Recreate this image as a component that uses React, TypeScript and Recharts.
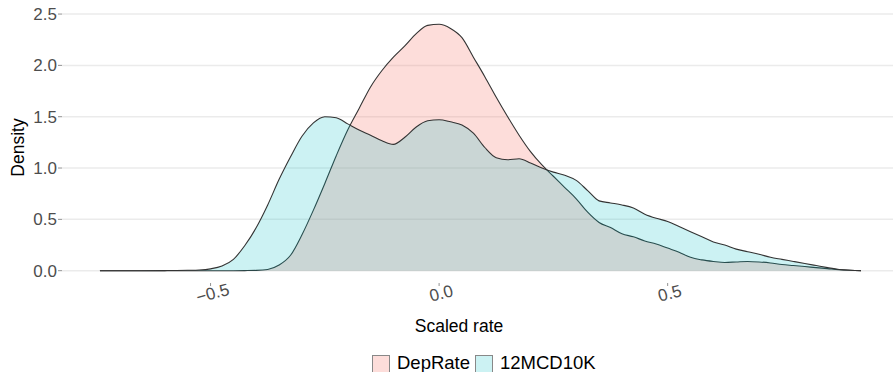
import React from 'react';
import { ComposedChart, Area, XAxis, YAxis, CartesianGrid } from 'recharts';

const xValues = [-0.742, -0.7, -0.65, -0.6, -0.575, -0.55, -0.525, -0.5, -0.475, -0.45, -0.425, -0.4, -0.375, -0.35, -0.325, -0.3, -0.275, -0.25, -0.225, -0.2, -0.175, -0.15, -0.125, -0.1, -0.075, -0.05, -0.025, 0, 0.025, 0.05, 0.075, 0.1, 0.125, 0.15, 0.175, 0.2, 0.225, 0.25, 0.275, 0.3, 0.325, 0.35, 0.375, 0.4, 0.425, 0.45, 0.475, 0.5, 0.525, 0.55, 0.575, 0.6, 0.625, 0.65, 0.675, 0.7, 0.725, 0.75, 0.775, 0.8, 0.825, 0.85, 0.875, 0.9, 0.923];

const depRate = [0, 0, 0, 0, 0, 0, 0, 0, 0, 0, 0.001, 0.003, 0.012, 0.055, 0.15, 0.35, 0.59, 0.85, 1.12, 1.37, 1.58, 1.79, 1.95, 2.08, 2.19, 2.31, 2.39, 2.40, 2.36, 2.27, 2.08, 1.89, 1.69, 1.50, 1.32, 1.16, 1.03, 0.92, 0.81, 0.70, 0.57, 0.47, 0.42, 0.36, 0.33, 0.29, 0.26, 0.22, 0.18, 0.13, 0.105, 0.09, 0.08, 0.085, 0.09, 0.085, 0.075, 0.06, 0.05, 0.04, 0.03, 0.02, 0.01, 0.004, 0.001];

const mcd10k = [0, 0, 0, 0.001, 0.002, 0.004, 0.007, 0.018, 0.045, 0.11, 0.245, 0.42, 0.64, 0.89, 1.11, 1.31, 1.44, 1.50, 1.49, 1.43, 1.37, 1.32, 1.265, 1.23, 1.30, 1.40, 1.46, 1.47, 1.45, 1.42, 1.34, 1.20, 1.10, 1.08, 1.09, 1.05, 1.00, 0.96, 0.93, 0.88, 0.78, 0.68, 0.66, 0.64, 0.61, 0.55, 0.51, 0.48, 0.43, 0.38, 0.33, 0.28, 0.25, 0.21, 0.185, 0.16, 0.13, 0.11, 0.09, 0.07, 0.05, 0.03, 0.012, 0.004, 0.001];

const xTicks = [-0.5, 0, 0.5];
const yTicks = [0, 0.5, 1, 1.5, 2, 2.5];
const yDomain = [-0.12, 2.52];
const seriesNames = ['DepRate', '12MCD10K'];
const seriesColors = ['#F8766D', '#00BFC4'];

const data = xValues.map((x, i) => ({ x, dep: depRate[i], mcd: mcd10k[i] }));

const FONT = '"Liberation Sans", Arial, Helvetica, sans-serif';

const fmtX = (v: number) => {
  const s = Math.abs(v).toFixed(1);
  return v < 0 ? '\u2212' + s : s;
};

const XTick = (props: any) => {
  const { x, y, payload } = props;
  const cx = x + 2;
  const cy = y + 5;
  return (
    <text
      x={cx}
      y={cy + 6}
      textAnchor="middle"
      transform={`rotate(-15, ${cx}, ${cy})`}
      fill="#4D4D4D"
      fontSize={17}
      fontFamily={FONT}
    >
      {fmtX(payload.value)}
    </text>
  );
};

const YTick = (props: any) => {
  const { x, y, payload } = props;
  return (
    <text x={x} y={y + 6} textAnchor="end" fill="#4D4D4D" fontSize={17} fontFamily={FONT}>
      {payload.value.toFixed(1)}
    </text>
  );
};

const gridRows = (props: any) => {
  const yAxis = props && props.yAxis;
  if (yAxis && typeof yAxis.scale === 'function') {
    const out = yTicks.map((v) => yAxis.scale(v));
    if (out.every((p) => typeof p === 'number' && isFinite(p))) return out;
  }
  const off = props && props.offset;
  if (off) {
    return yTicks.map((v) => off.top + off.height * (1 - (v - yDomain[0]) / (yDomain[1] - yDomain[0])));
  }
  return [];
};

export default function App() {
  return (
    <div style={{ position: 'absolute', left: 0, top: 0, width: 896, height: 372, background: '#fff' }}>
      <ComposedChart width={896} height={372} data={data} margin={{ top: 12, right: 3, bottom: 0, left: 0 }}>
        <CartesianGrid vertical={false} stroke="#EBEBEB" strokeWidth={1.5} horizontalCoordinatesGenerator={gridRows} />
        <XAxis
          dataKey="x"
          type="number"
          domain={[-0.825, 0.993]}
          allowDataOverflow
          ticks={xTicks}
          height={89}
          axisLine={false}
          tickSize={3}
          tickMargin={2}
          tickLine={{ stroke: '#777', strokeWidth: 0.8 }}
          tick={<XTick />}
          label={() => (
            <text x={459} y={332} textAnchor="middle" fill="#000" fontSize={17.5} fontFamily={FONT}>
              Scaled rate
            </text>
          )}
        />
        <YAxis
          type="number"
          domain={yDomain}
          allowDataOverflow
          ticks={yTicks}
          width={62}
          axisLine={false}
          tickSize={4}
          tickMargin={1}
          tickLine={{ stroke: '#777', strokeWidth: 0.8 }}
          tick={<YTick />}
          label={() => (
            <text
              x={18}
              y={147.5}
              transform="rotate(-90, 18, 147.5)"
              textAnchor="middle"
              dominantBaseline="central"
              fill="#000"
              fontSize={17.5}
              fontFamily={FONT}
            >
              Density
            </text>
          )}
        />
        <Area
          type="monotone"
          dataKey="dep"
          name={seriesNames[0]}
          stroke="#333"
          strokeWidth={1.1}
          fill={seriesColors[0]}
          fillOpacity={0.25}
          isAnimationActive={false}
          dot={false}
          activeDot={false}
        />
        <Area
          type="monotone"
          dataKey="mcd"
          name={seriesNames[1]}
          stroke="#333"
          strokeWidth={1.1}
          fill={seriesColors[1]}
          fillOpacity={0.2}
          isAnimationActive={false}
          dot={false}
          activeDot={false}
        />
      </ComposedChart>
      <div style={{ position: 'absolute', left: 0, top: 0, width: 896, height: 372, pointerEvents: 'none', fontFamily: FONT, fontSize: 18.5, color: '#000' }}>
        <div style={{ position: 'absolute', left: 372, top: 355, width: 16, height: 16, background: 'rgba(248,118,109,0.25)', border: '1px solid #888' }} />
        <div style={{ position: 'absolute', left: 397, top: 352, lineHeight: '22px' }}>{seriesNames[0]}</div>
        <div style={{ position: 'absolute', left: 475, top: 355, width: 16, height: 16, background: 'rgba(0,191,196,0.2)', border: '1px solid #888' }} />
        <div style={{ position: 'absolute', left: 500, top: 352, lineHeight: '22px' }}>{seriesNames[1]}</div>
      </div>
    </div>
  );
}
